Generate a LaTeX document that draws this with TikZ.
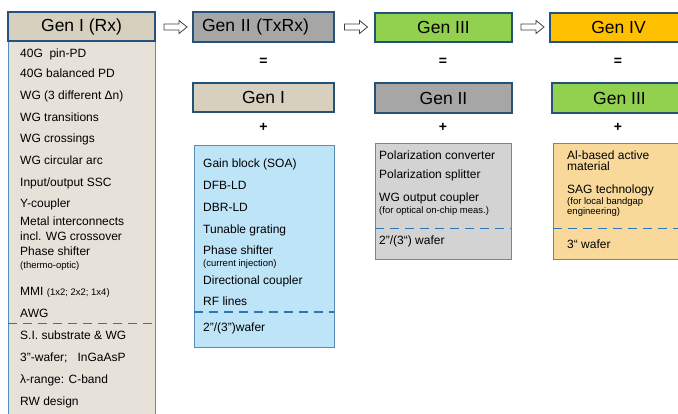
\documentclass[tikz,border=0pt]{standalone}
\usepackage{fontspec}
\setmainfont{Liberation Sans}
\definecolor{tanH}{HTML}{D8D0BE}
\definecolor{tanB}{HTML}{E6E2DA}
\definecolor{blueB}{HTML}{BEE4F8}
\definecolor{grayH}{HTML}{A6A6A6}
\definecolor{grayB}{HTML}{D3D3D3}
\definecolor{greenH}{HTML}{92D050}
\definecolor{orangeH}{HTML}{FFC000}
\definecolor{orangeB}{HTML}{F9D99A}
\definecolor{hdrline}{HTML}{24527A}
\definecolor{bodyline}{HTML}{5B8DB8}
\definecolor{dashblue}{HTML}{2E75B6}
\definecolor{arrowgray}{HTML}{404040}
\newcommand{\qd}{\symbol{34}}
\begin{document}
\begin{tikzpicture}[x=1pt,y=-1pt,
  hdr/.style={draw=hdrline, line width=1.5pt, inner sep=0, font=\fontsize{17.5}{20}\selectfont},
  bodybox/.style={draw=bodyline, line width=0.9pt, inner sep=0},
  item/.style={anchor=base west, inner sep=0, font=\fontsize{12}{14}\selectfont},
  sub/.style={anchor=base west, inner sep=0, font=\fontsize{9.5}{11}\selectfont},
  sep/.style={draw=dashblue, line width=1.3pt, dash pattern=on 9pt off 6pt},
  op/.style={font=\bfseries\fontsize{14}{16}\selectfont, inner sep=0},
  blockarrow/.style={draw=arrowgray, fill=white, line width=0.8pt, line join=miter}
]
\useasboundingbox (0,0) rectangle (678,413);

% ---------- Column 1: Gen I (Rx)
\node[bodybox, fill=tanB, minimum width=147pt, minimum height=380pt] (b1) at (81.5,231) {};
\node[hdr, fill=tanH, minimum width=147pt, minimum height=29pt] (h1) at (81.5,26.5) {Gen I (Rx)};
\node[item] (i1a) at (20,57.3) {40G\ \ pin-PD};
\node[item] (i1b) at (20,77.3) {40G balanced PD};
\node[item] (i1c) at (20,99.8) {WG (3 different Δn)};
\node[item] (i1d) at (20,121) {WG transitions};
\node[item] (i1e) at (20,142.3) {WG crossings};
\node[item] (i1f) at (20,164.5) {WG circular arc};
\node[item] (i1g) at (20,186) {Input/output SSC};
\node[item] (i1h) at (20,207.5) {Y-coupler};
\node[item] (i1i) at (20,225) {Metal interconnects};
\node[item] (i1j) at (20,240) {incl. WG crossover};
\node[item] (i1k) at (20,255.5) {Phase shifter};
\node[sub]  (i1l) at (20,268.5) {(thermo-optic)};
\node[item] (i1m) at (20,295) {MMI {\fontsize{9.5}{11}\selectfont (1x2; 2x2; 1x4)}};
\node[item] (i1n) at (20,317.3) {AWG};
\coordinate (d1a) at (8,323.3);
\coordinate (d1b) at (155,323.3);
\draw[sep] (d1a) -- (d1b);
\node[item] (i1o) at (20,339.3) {S.I. substrate \& WG};
\node[item] (i1p) at (20,361.5) {3\qd-wafer;\ \ \ InGaAsP};
\node[item] (i1q) at (20,383.5) {λ-range: C-band};
\node[item] (i1r) at (20,405) {RW design};

% ---------- block arrows
\foreach \cx/\nm in {175.5/a1, 356/a2, 532.5/a3}{
  \coordinate (\nm) at (\cx,27);
  \draw[blockarrow] ([shift={(-11.5,-3)}]\nm) -- ([shift={(3.5,-3)}]\nm)
    -- ([shift={(3.5,-6.5)}]\nm) -- ([shift={(11.5,0)}]\nm)
    -- ([shift={(3.5,6.5)}]\nm) -- ([shift={(3.5,3)}]\nm)
    -- ([shift={(-11.5,3)}]\nm) -- cycle;
}

% ---------- Column 2: Gen II (TxRx)
\node[hdr, fill=grayH, minimum width=141pt, minimum height=30pt, text width=123pt, align=left, inner xsep=9pt] (h2) at (263.5,27) {Gen II (TxRx)};
\node[op] (eq2) at (263.5,62) {=};
\node[hdr, fill=tanH, minimum width=141pt, minimum height=29pt] (g2) at (263.5,97.5) {Gen I};
\node[op] (pl2) at (263.5,127) {+};
\node[bodybox, fill=blueB, minimum width=140pt, minimum height=202pt] (b2) at (264,246) {};
\node[item] (i2a) at (203,167.3) {Gain block (SOA)};
\node[item] (i2b) at (203,189) {DFB-LD};
\node[item] (i2c) at (203,211) {DBR-LD};
\node[item] (i2d) at (203,233) {Tunable grating};
\node[item] (i2e) at (203,254.3) {Phase shifter};
\node[sub]  (i2f) at (203,266.5) {(current injection)};
\node[item] (i2g) at (203,284) {Directional coupler};
\node[item] (i2h) at (203,305.3) {RF lines};
\coordinate (d2a) at (194,312);
\coordinate (d2b) at (334,312);
\draw[sep] (d2a) -- (d2b);
\node[item] (i2i) at (203,331) {2\qd/(3\qd)wafer};

% ---------- Column 3: Gen III
\node[hdr, fill=greenH, minimum width=137pt, minimum height=29pt] (h3) at (443.5,27.5) {Gen III};
\node[op] (eq3) at (443,62) {=};
\node[hdr, fill=grayH, minimum width=137pt, minimum height=30pt] (g3) at (443.5,98) {Gen II};
\node[op] (pl3) at (443,127) {+};
\node[bodybox, fill=grayB, minimum width=136pt, minimum height=116pt] (b3) at (443,201) {};
\node[item] (i3a) at (379,159.3) {Polarization converter};
\node[item] (i3b) at (379,178.3) {Polarization splitter};
\node[item] (i3c) at (379,201.3) {WG output coupler};
\node[sub]  (i3d) at (379,213.3) {(for optical on-chip meas.)};
\coordinate (d3a) at (375,228.3);
\coordinate (d3b) at (511,228.3);
\draw[sep] (d3a) -- (d3b);
\node[item] (i3e) at (379,244.3) {2”/(3“) wafer};

% ---------- Column 4: Gen IV
\node[hdr, fill=orangeH, minimum width=137pt, minimum height=29pt] (h4) at (618.5,27.5) {Gen IV};
\node[op] (eq4) at (618,62) {=};
\node[hdr, fill=greenH, minimum width=135pt, minimum height=30pt] (g4) at (619.5,98) {Gen III};
\node[op] (pl4) at (618,127) {+};
\node[bodybox, fill=orangeB, minimum width=136pt, minimum height=116pt] (b4) at (621,201) {};
\node[item] (i4a) at (567,159.3) {Al-based active};
\node[item] (i4b) at (567,170.8) {material};
\node[item] (i4c) at (567,193.3) {SAG technology};
\node[sub]  (i4d) at (567,204) {(for local bandgap};
\node[sub]  (i4e) at (567,214) {engineering)};
\coordinate (d4a) at (553,228.3);
\coordinate (d4b) at (689,228.3);
\draw[sep] (d4a) -- (d4b);
\node[item] (i4f) at (567,248.5) {3“ wafer};
\end{tikzpicture}
\end{document}
